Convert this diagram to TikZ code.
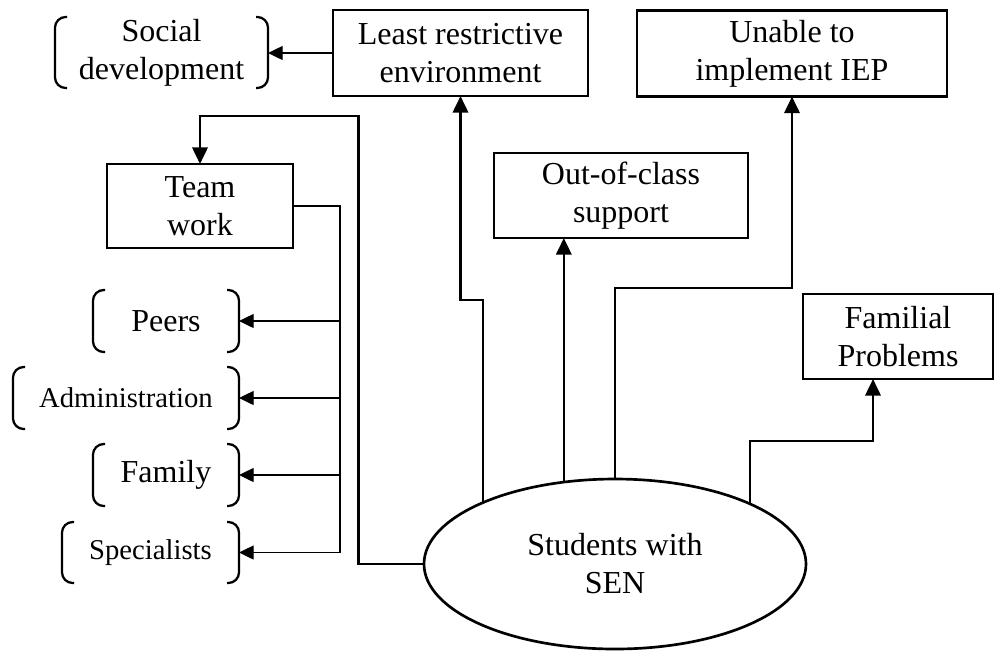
\documentclass[tikz,border=0pt]{standalone}
\usepackage{fontspec}
\setmainfont{Liberation Serif}
\usetikzlibrary{arrows.meta,shapes.geometric}

\tikzset{
  lbl/.style={font=\fontsize{24}{28.5}\selectfont, align=center, inner sep=0pt, outer sep=0pt},
  small/.style={font=\fontsize{21.5}{25}\selectfont},
  box/.style={lbl, draw, rectangle, line width=2pt},
  bracketline/.style={line width=1.7pt, rounded corners=8pt},
  brk/.style={lbl, rectangle, append after command={\pgfextra{\let\bnode\tikzlastnode
      \draw[bracketline] ([xshift=9pt]\bnode.north west) -- (\bnode.north west)
        -- (\bnode.south west) -- ([xshift=9pt]\bnode.south west);
      \draw[bracketline] ([xshift=-9pt]\bnode.north east) -- (\bnode.north east)
        -- (\bnode.south east) -- ([xshift=-9pt]\bnode.south east);}}},
  link/.style={line width=2pt, -{Triangle[length=12.5pt,width=11.5pt]}},
  thinlink/.style={line width=1pt, -{Triangle[length=11pt,width=10.5pt]}},
}

\begin{document}
\begin{tikzpicture}[x=0.75pt, y=-0.75pt]
  \fill[white] (0,0) rectangle (995,651);
  \useasboundingbox (0,0) rectangle (995,651);

  % boxes
  \node[box, minimum width=191.25pt, minimum height=64.5pt] (lre) at (460.5,53) {Least restrictive\\environment};
  \node[box, minimum width=232.5pt, minimum height=64.5pt] (une) at (792,53.5) {Unable to\\implement IEP};
  \node[box, minimum width=190.5pt, minimum height=63.75pt] (out) at (621,195.5) {Out-of-class\\support};
  \node[box, minimum width=139.5pt, minimum height=63pt] (tw) at (200,206) {Team\\work};
  \node[box, minimum width=142.5pt, minimum height=63.75pt] (fam) at (898,336.5) {Familial\\Problems};
  \node[lbl, draw, ellipse, line width=2pt, minimum width=286.5pt, minimum height=127.5pt] (sen) at (615,564) {Students with\\SEN};

  % bracketed labels
  \node[brk, minimum width=159.75pt, minimum height=53.25pt] (soc) at (161.5,52.5) {Social\\development};
  \node[brk, minimum width=109.5pt, minimum height=46.5pt] (peers) at (166,321) {Peers};
  \node[brk, small, minimum width=169.5pt, minimum height=46.5pt] (adm) at (126,398) {Administration};
  \node[brk, minimum width=109.5pt, minimum height=46.5pt] (fmy) at (166,475) {Family};
  \node[brk, small, minimum width=132.75pt, minimum height=45.75pt] (spec) at (150.5,552.5) {Specialists};

  % routing points
  \coordinate (elbow) at (358.5,116);
  \coordinate (lvlA) at (0,300);
  \coordinate (lvlB) at (0,288);
  \coordinate (famstep) at (873,441);
  \coordinate (bus) at (340,0);

  % connectors from the central ellipse
  \draw[link] (sen.west) -| (elbow) -| (tw.north);
  \draw[link] (sen.155.7) |- (lvlA -| lre.south) -- (lre.south);
  \draw[link] (sen.122.4) -- (sen.122.4 |- out.south);
  \draw[link] (sen.north) |- (lvlB -| une.south) -- (une.south);
  \draw[link] (sen.24) |- (famstep) -- (famstep |- fam.south);

  % thin connectors
  \draw[thinlink] (lre.west) -- (lre.west -| soc.east);
  \draw[line width=1pt] (tw.east) -| (bus |- spec.east);
  \foreach \n in {peers,adm,fmy,spec}
    \draw[thinlink] (bus |- \n.east) -- (\n.east);
\end{tikzpicture}
\end{document}
